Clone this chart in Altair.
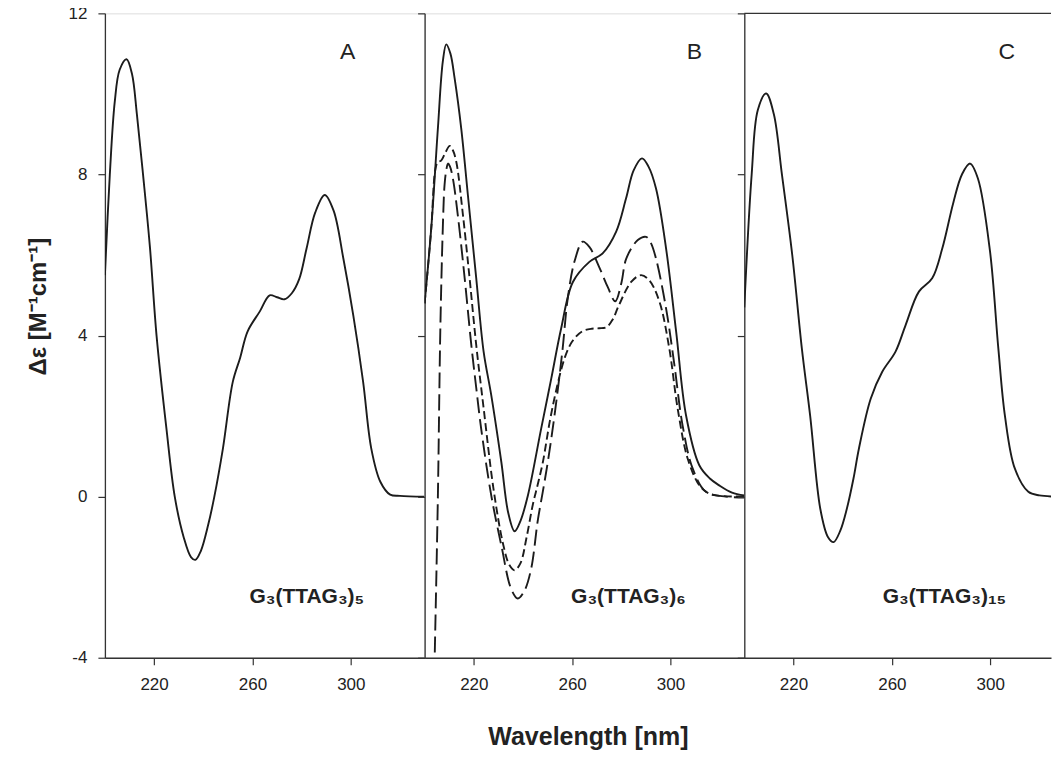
import altair as alt
import pandas as pd

# ---------------- data ----------------
A_NM = [200, 202, 204, 206, 208.8, 211, 213, 215.5, 218.3, 221, 225, 228.4, 232, 235, 236.8,
        239, 242, 244.5, 248, 252, 255, 258, 263, 267, 270, 273, 276, 279, 282, 285.5, 289.4,
        293, 297, 301, 305, 308.3, 312, 316, 320, 330]
A_DE = [5.5, 8.0, 9.8, 10.6, 10.86, 10.5, 9.5, 8.0, 6.2, 4.0, 1.7, 0.0, -1.0, -1.5, -1.57,
        -1.35, -0.7, 0.0, 1.2, 2.85, 3.45, 4.1, 4.6, 5.0, 4.95, 4.9, 5.05, 5.4, 6.16, 7.05, 7.49,
        7.1, 5.9, 4.5, 2.85, 1.2, 0.37, 0.05, 0.02, 0.0]

B_SOLID_NM = [200, 202.7, 205.4, 207.4, 208.8, 210.5, 212.2, 214.9, 217.6, 221, 224, 227.1, 231.2,
              234, 236.6, 239, 242, 247.4, 251.5, 255.5, 260.3, 267, 272.4, 277.9, 281.9, 285,
              288.4, 291, 294.1, 298.2, 302.3, 306.3, 311.7, 316, 319.8, 325, 330]
B_SOLID_DE = [4.8, 6.66, 9.14, 10.8, 11.23, 11.0, 10.39, 9.14, 7.49, 5.42, 3.6, 2.52, 0.86,
              -0.4, -0.86, -0.6, 0.03, 1.69, 2.93, 4.17, 5.33, 5.83, 6.04, 6.58, 7.4, 8.1,
              8.4, 8.2, 7.65, 6.16, 4.09, 2.02, 0.78, 0.45, 0.28, 0.1, 0.03]

B_MED_NM = [200, 202.7, 204.3, 205.3, 206.8, 208.5, 210.2, 211.5, 212.9, 215.6, 218.3, 221, 224,
            228, 232, 234.5, 236.6, 239, 241.5, 244, 246, 248.1, 251, 254, 257, 260, 264, 268,
            271, 274, 276.5, 279, 284, 288, 291.4, 295.5, 299.5, 302.9, 307, 311.7, 315, 318.5, 330]
B_MED_DE = [4.8, 6.66, 8.1, 8.3, 8.35, 8.55, 8.71, 8.6, 8.31, 6.99, 5.42, 3.76, 2.2,
            0.2, -1.2, -1.7, -1.83, -1.65, -1.0, -0.2, 0.3, 0.86, 1.9, 2.77, 3.45, 3.85, 4.1, 4.17,
            4.18, 4.21, 4.4, 4.75, 5.33, 5.5, 5.37, 4.84, 3.68, 2.19, 0.94, 0.28, 0.1, 0.03, 0.0]

B_LONG_NM = [203.6, 204.1, 205.4, 206.4, 207.4, 208.1, 208.8, 209.5, 210.3, 211.5, 213.5, 216.3,
             219, 221, 223, 227.1, 231.2, 235.2, 237.9, 240.5, 243.3, 246, 248, 250.1, 253, 256,
             258.2, 261, 264.3, 267, 271, 274.5, 277.5, 280, 282, 286.7, 290.1, 292, 294.1, 298.2,
             301.6, 304.9, 309, 314.4, 322.6, 330]
B_LONG_DE = [-5.5, -4.0, 0.0, 4.17, 6.66, 7.73, 8.1, 8.27, 8.2, 7.9, 6.99, 5.42,
             3.76, 2.7, 1.69, 0.03, -1.21, -2.29, -2.53, -2.35, -1.8, -0.6, 0.1, 0.86, 2.1, 3.6,
             4.92, 5.85, 6.33, 6.2, 5.7, 5.2, 4.85, 5.3, 5.91, 6.37, 6.45, 6.3, 5.91, 4.67,
             3.26, 1.77, 0.7, 0.12, 0.0, -0.02]

C_NM = [200, 203, 205.5, 208.9, 212, 215.3, 219.5, 223.4, 226.8, 230.9, 234, 236.3, 239, 241.7,
        244.4, 246.6, 251.4, 256.1, 261.5, 265.6, 271, 276.4, 280.5, 285, 288.5, 291.8, 295,
        299.9, 303.3, 306, 310, 315.5, 320, 330]
C_DE = [4.7, 8.0, 9.6, 10.01, 9.5, 8.0, 6.0, 3.68, 2.0, -0.3, -1.0, -1.13, -0.85, -0.3,
        0.45, 1.19, 2.43, 3.1, 3.6, 4.26, 5.09, 5.42, 6.16, 7.3, 8.0, 8.27, 7.9,
        6.1, 3.68, 2.0, 0.7, 0.12, 0.03, 0.0]

X_TICKS = [220, 260, 300]
Y_TICKS = [-4, 0, 4, 8, 12]
PANEL_LETTERS = ["A", "B", "C"]
SEQ_LABELS = ["G\u2083(TTAG\u2083)\u2085", "G\u2083(TTAG\u2083)\u2086", "G\u2083(TTAG\u2083)\u2081\u2085"]
X_TITLE = "Wavelength [nm]"
Y_TITLE = "\u0394\u03b5 [M\u207b\u00b9cm\u207b\u00b9]"

# ---------------- chart ----------------
INK = "#1c1c1c"
AX = "#333333"
FONT = "Liberation Sans"

W, H, WC = 320, 645, 307
XDOM = [200, 330]
XDOM_C = [200, 200 + 130 * WC / W]   # right panel is cut off by the page edge

yscale = alt.Scale(domain=[-4, 12], nice=False, zero=False)


def xaxis():
    return alt.Axis(values=X_TICKS, tickSize=7, labelFontSize=17, labelPadding=12, grid=False,
                    domainColor=AX, tickColor=AX, labelColor="#222", labelFont=FONT,
                    domainWidth=1.3, tickWidth=1.2, title=None)


def yaxis(first):
    kw = dict(values=Y_TICKS, tickSize=7, grid=False, domainColor=AX, tickColor=AX,
              domainWidth=1.3, tickWidth=1.2)
    if first:
        kw.update(labelFontSize=17, labelPadding=11, labelColor="#222", labelFont=FONT,
                  labelExpr="'' + datum.value",
                  title=Y_TITLE, titleFontSize=24,
                  titleFont=FONT, titleFontWeight="bold", titleColor="#222",
                  titleAngle=-90, titleBaseline="alphabetic", titleX=-59, titleY=293,
                  titleAlign="center")
    else:
        kw.update(labels=False, title=None)
    return alt.Axis(**kw)


def curve(nm, de, xdom, dash=None, first=False):
    df = pd.DataFrame({"nm": nm, "de": de})
    mk = dict(color=INK, strokeWidth=1.9, clip=True, interpolate="catmull-rom")
    if dash:
        mk["strokeDash"] = dash
    return alt.Chart(df).mark_line(**mk).encode(
        x=alt.X("nm:Q", scale=alt.Scale(domain=xdom, nice=False, zero=False), axis=xaxis()),
        y=alt.Y("de:Q", scale=yscale, axis=yaxis(first)),
    )


def label(txt, xnm, yv, size, weight="normal"):
    return alt.Chart().mark_text(text=txt, fontSize=size, font=FONT, fontWeight=weight,
                                  color="#222", align="center", baseline="alphabetic").encode(
        x=alt.datum(xnm), y=alt.datum(yv))


panel_a = alt.layer(
    curve(A_NM, A_DE, XDOM, first=True),
    label(PANEL_LETTERS[0], 298.7, 10.86, 23),
    label(SEQ_LABELS[0], 282.1, -2.63, 21, "bold"),
).properties(width=W, height=H)

x_title = alt.Chart().mark_text(text=X_TITLE, fontSize=25, font=FONT, fontWeight="bold",
                                color="#222", align="center", baseline="alphabetic").encode(
    x=alt.value(164), y=alt.value(H + 87))

panel_b = alt.layer(
    curve(B_SOLID_NM, B_SOLID_DE, XDOM),
    curve(B_MED_NM, B_MED_DE, XDOM, dash=[8, 4]),
    curve(B_LONG_NM, B_LONG_DE, XDOM, dash=[16, 6]),
    label(PANEL_LETTERS[1], 309.7, 10.86, 23),
    label(SEQ_LABELS[1], 282.9, -2.63, 21, "bold"),
    x_title,
).properties(width=W, height=H)

top_edge = alt.Chart().mark_rule(color=AX, strokeWidth=1.3).encode(y=alt.datum(12))

panel_c = alt.layer(
    curve(C_NM, C_DE, XDOM_C),
    label(PANEL_LETTERS[2], 306.7, 10.86, 23),
    label(SEQ_LABELS[2], 281.4, -2.63, 21, "bold"),
    top_edge,
).properties(width=WC, height=H, view=alt.ViewBackground(stroke=None))

chart = alt.hconcat(panel_a, panel_b, panel_c, spacing=0, bounds="flush").properties(
    padding={"left": 18, "top": -5, "right": 0, "bottom": 2}
).configure_view(stroke=AX, strokeWidth=1.3).configure(background="white")

chart.save("out.html", embed_options={"renderer": "svg", "actions": False})
